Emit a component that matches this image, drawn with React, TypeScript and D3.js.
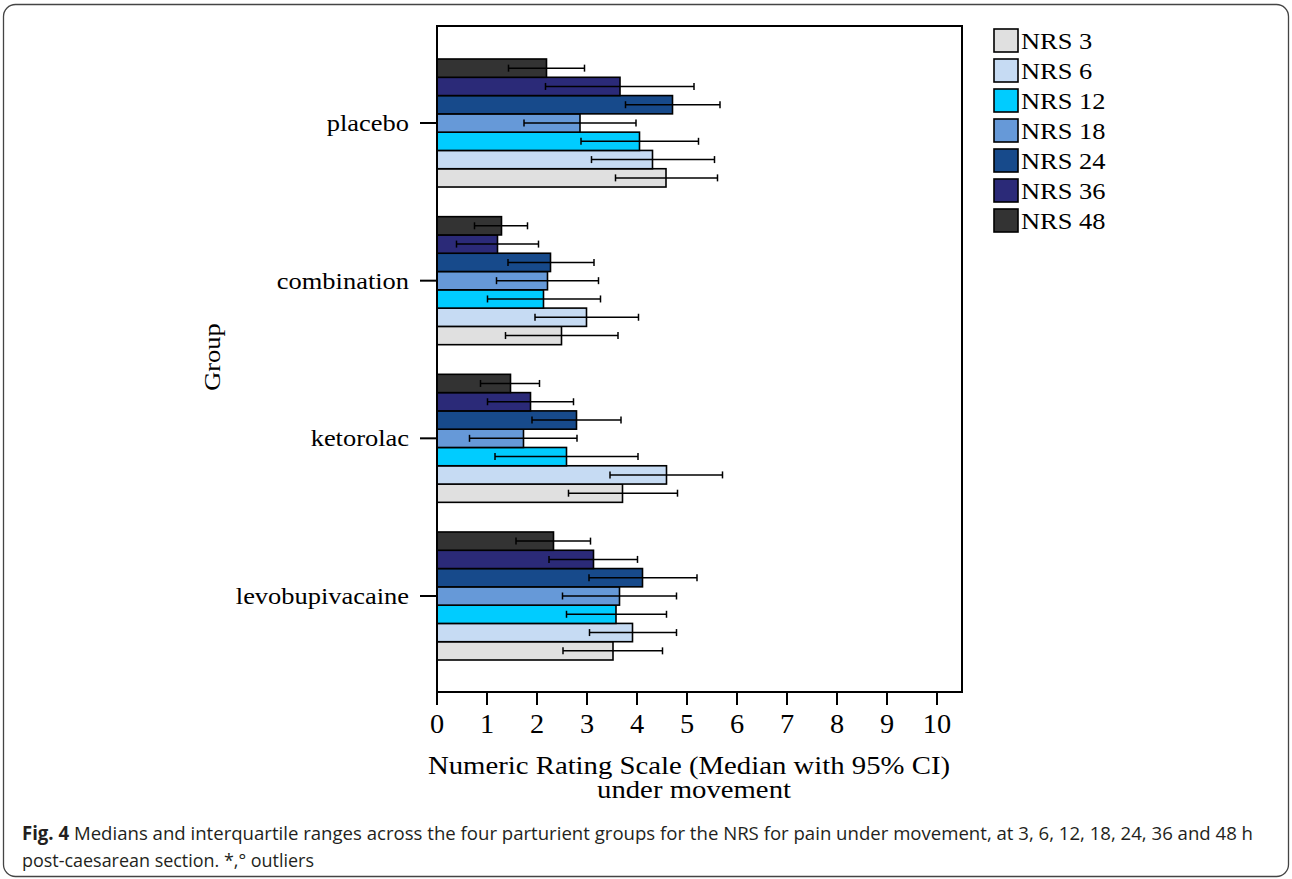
import React from "react";
import * as d3 from "d3";

const groups = ["placebo", "combination", "ketorolac", "levobupivacaine"];
const series = ["NRS 3", "NRS 6", "NRS 12", "NRS 18", "NRS 24", "NRS 36", "NRS 48"];
const colors = ["#e0e0e0", "#c6dbf3", "#00ccff", "#6699d8", "#174a8b", "#2b2a78", "#333333"];
const xTicks = [0, 1, 2, 3, 4, 5, 6, 7, 8, 9, 10];

// medians and 95% CI per group, in series order (NRS 3 ... NRS 48)
const medians = [
  [4.58, 4.31, 4.05, 2.86, 4.71, 3.66, 2.19],
  [2.49, 2.99, 2.13, 2.21, 2.27, 1.21, 1.29],
  [3.71, 4.59, 2.59, 1.73, 2.79, 1.87, 1.47],
  [3.52, 3.91, 3.58, 3.65, 4.11, 3.13, 2.33],
];
const ciLow = [
  [3.57, 3.09, 2.88, 1.74, 3.77, 2.17, 1.43],
  [1.37, 1.96, 1.01, 1.19, 1.42, 0.39, 0.75],
  [2.63, 3.46, 1.16, 0.65, 1.9, 1.01, 0.87],
  [2.52, 3.05, 2.59, 2.51, 3.04, 2.24, 1.58],
];
const ciHigh = [
  [5.61, 5.55, 5.23, 3.98, 5.66, 5.14, 2.95],
  [3.62, 4.03, 3.27, 3.23, 3.14, 2.03, 1.81],
  [4.81, 5.71, 4.02, 2.8, 3.68, 2.73, 2.05],
  [4.51, 4.79, 4.59, 4.79, 5.2, 4.01, 3.07],
];

const W = 1292;
const H = 879;
const plot = { left: 437, right: 962, top: 26, bottom: 692 };
const serif = "'Liberation Serif', 'Times New Roman', serif";
const STRETCH = 1.15;

// stretched serif text, like the SPSS export
const SText = ({ x, y, anchor = "start", size = 23, children, rotate = 0, sx = STRETCH }: any) => (
  <text
    transform={`translate(${x},${y}) rotate(${rotate}) scale(${sx},1)`}
    textAnchor={anchor}
    fontFamily={serif}
    fontSize={size}
    fill="#000"
  >
    {children}
  </text>
);

export default function App() {
  const x = d3.scaleLinear().domain([0, 10.5]).range([plot.left, plot.right]);
  const yGroup = d3
    .scaleBand()
    .domain(groups)
    .range([plot.top + 33, plot.bottom - 32])
    .paddingInner(0.188)
    .paddingOuter(0);
  // NRS 48 on top, NRS 3 at the bottom of each group
  const yBar = d3
    .scaleBand()
    .domain([...series].reverse())
    .range([0, yGroup.bandwidth()]);
  const bh = yBar.bandwidth();
  const cap = 3.5;

  return (
    <div style={{ position: "absolute", left: 0, top: 0 }}>
      <svg width={W} height={H} style={{ display: "block", background: "#fff" }}>
        <rect x={3.5} y={4.5} width={1285} height={872} rx={12} fill="none" stroke="#444" strokeWidth={1.3} />

        {/* bars */}
        {groups.map((g, gi) => (
          <g key={g} transform={`translate(0,${yGroup(g)})`}>
            {series.map((s, si) => {
              const y0 = yBar(s) as number;
              const cy = y0 + bh / 2;
              return (
                <g key={s}>
                  <rect
                    x={x(0)}
                    y={y0}
                    width={x(medians[gi][si]) - x(0)}
                    height={bh}
                    fill={colors[si]}
                    stroke="#000"
                    strokeWidth={1.6}
                  />
                  <line x1={x(ciLow[gi][si])} x2={x(ciHigh[gi][si])} y1={cy} y2={cy} stroke="#000" strokeWidth={1.5} />
                  <line x1={x(ciLow[gi][si])} x2={x(ciLow[gi][si])} y1={cy - cap} y2={cy + cap} stroke="#000" strokeWidth={1.5} />
                  <line x1={x(ciHigh[gi][si])} x2={x(ciHigh[gi][si])} y1={cy - cap} y2={cy + cap} stroke="#000" strokeWidth={1.5} />
                </g>
              );
            })}
          </g>
        ))}

        {/* frame */}
        <rect
          x={plot.left}
          y={plot.top}
          width={plot.right - plot.left}
          height={plot.bottom - plot.top}
          fill="none"
          stroke="#000"
          strokeWidth={2}
        />

        {/* x axis */}
        {xTicks.map((t) => (
          <g key={t}>
            <line x1={x(t)} x2={x(t)} y1={plot.bottom} y2={plot.bottom + 13} stroke="#000" strokeWidth={2} />
            <SText x={x(t)} y={plot.bottom + 41} anchor="middle" size={27} sx={1.05}>
              {t}
            </SText>
          </g>
        ))}

        {/* y axis */}
        {groups.map((g) => {
          const cy = (yGroup(g) as number) + yGroup.bandwidth() / 2;
          return (
            <g key={g}>
              <line x1={plot.left - 17} x2={plot.left} y1={cy} y2={cy} stroke="#000" strokeWidth={2} />
              <SText x={plot.left - 28} y={cy + 8} anchor="end">
                {g}
              </SText>
            </g>
          );
        })}

        <SText x={220} y={357} anchor="middle" rotate={-90}>
          Group
        </SText>

        <SText x={689} y={774} anchor="middle" size={25}>
          Numeric Rating Scale (Median with 95% CI)
        </SText>
        <SText x={694} y={798} anchor="middle" size={25}>
          under movement
        </SText>

        {/* legend */}
        {series.map((s, i) => (
          <g key={s} transform={`translate(994,${29 + i * 30})`}>
            <rect x={0} y={0} width={24} height={23} fill={colors[i]} stroke="#000" strokeWidth={1.6} />
            <SText x={27} y={20}>
              {s}
            </SText>
          </g>
        ))}

        {/* caption */}
        <text
          x={22}
          y={840}
          fontFamily="'Open Sans', sans-serif"
          fontSize={19}
          fill="#231f20"
          textLength={1231}
          lengthAdjust="spacingAndGlyphs"
        >
          <tspan fontWeight="bold">Fig. 4</tspan>
          <tspan> Medians and interquartile ranges across the four parturient groups for the NRS for pain under movement, at 3, 6, 12, 18, 24, 36 and 48 h</tspan>
        </text>
        <text
          x={22}
          y={867}
          fontFamily="'Open Sans', sans-serif"
          fontSize={19}
          fill="#231f20"
          textLength={292}
          lengthAdjust="spacingAndGlyphs"
        >
          post-caesarean section. *,° outliers
        </text>
      </svg>
    </div>
  );
}
